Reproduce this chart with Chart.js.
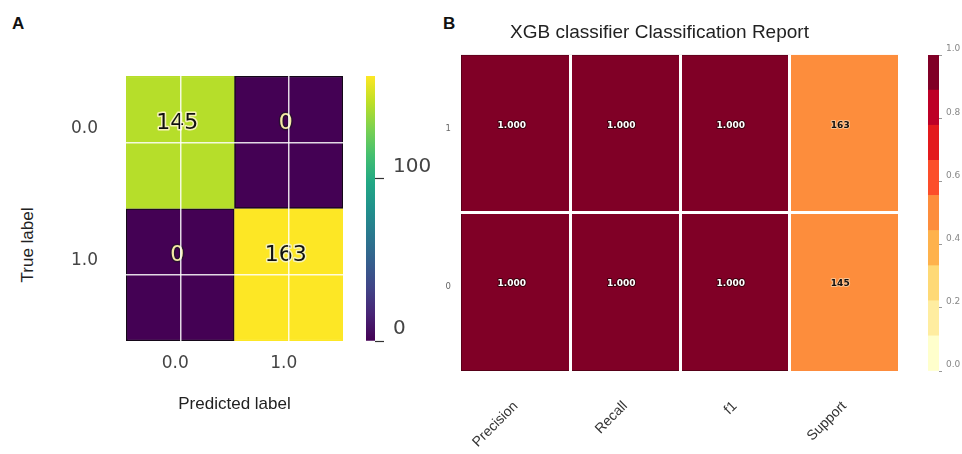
<!DOCTYPE html>
<html>
<head>
<meta charset="utf-8">
<script src="https://cdn.jsdelivr.net/npm/chart.js@4/dist/chart.umd.min.js"></script>
<style>
  body { margin: 0; background: #fff; }
  #wrap { position: relative; width: 962px; height: 454px; background: #fff; overflow: hidden; }
  #wrap canvas { position: absolute; top: 0; }
  .letter { position: absolute; font: bold 17px "Liberation Sans", Arial, sans-serif; color: #111; }
  #trueLabel { position: absolute; font: 17px "Liberation Sans", Arial, sans-serif; color: #222;
    left: 28px; top: 245px; transform: translate(-50%, -50%) rotate(-90deg); white-space: nowrap; }
</style>
</head>
<body>
<div id="wrap">
  <div class="letter" style="left:12px;top:14px">A</div>
  <div class="letter" style="left:443px;top:14px">B</div>
  <div id="trueLabel">True label</div>
  <canvas id="cmA" width="350" height="454" style="left:0"></canvas>
  <canvas id="cbA" width="100" height="454" style="left:350px"></canvas>
  <canvas id="cmB" width="480" height="454" style="left:420px"></canvas>
  <canvas id="cbB" width="52" height="454" style="left:910px"></canvas>
</div>
<script>
"use strict"

//////////    Data    ///////////////

// confusion matrix (rows = true label, columns = predicted label)
const cmLabels = ['0.0', '1.0'];
const cmRow0 = [145, 0];
const cmRow1 = [0, 163];
const cmTicks = [0, 100];

// classification report, rows '0' (bottom) and '1' (top)
const reportColumns = ['Precision', 'Recall', 'f1', 'Support'];
const reportRows = ['0', '1'];
const precision = [1.000, 1.000];
const recall = [1.000, 1.000];
const f1 = [1.000, 1.000];
const support = [145, 163];
const reportTicks = [0.0, 0.2, 0.4, 0.6, 0.8, 1.0];

//////////    Colour maps    ///////////////

const viridisStops = ['#440154', '#482475', '#414487', '#355f8d', '#2a788e', '#21918c',
  '#22a884', '#44bf70', '#7ad151', '#bddf26', '#fde725'];
const ylOrRd = ['#ffffcc', '#ffeda0', '#fed976', '#feb24c', '#fd8d3c', '#fc4e2a',
  '#e31a1c', '#bd0026', '#800026'];

function hexToRgb(h) {
  return [parseInt(h.slice(1, 3), 16), parseInt(h.slice(3, 5), 16), parseInt(h.slice(5, 7), 16)];
}

function viridis(t) {
  t = Math.max(0, Math.min(1, t));
  let pos = t * (viridisStops.length - 1);
  let i = Math.min(Math.floor(pos), viridisStops.length - 2);
  let f = pos - i;
  let a = hexToRgb(viridisStops[i]), b = hexToRgb(viridisStops[i + 1]);
  let c = a.map((v, k) => Math.round(v + (b[k] - v) * f));
  return `rgb(${c[0]},${c[1]},${c[2]})`;
}

function binColor(t) {
  return ylOrRd[Math.min(ylOrRd.length - 1, Math.floor(t * ylOrRd.length))];
}

//////////    Plugin for cell values    ///////////////

const cellText = {
  id: 'cellText',
  afterDatasetsDraw(chart) {
    const ctx = chart.ctx;
    chart.data.datasets.forEach((ds, di) => {
      if (!ds.texts) return;
      chart.getDatasetMeta(di).data.forEach((bar, i) => {
        let x = bar.x + ds.textDx;
        let y = (bar.y + bar.base) / 2 + ds.textDy;
        ctx.save();
        ctx.font = ds.textFont;
        ctx.textAlign = 'center';
        ctx.textBaseline = 'middle';
        ctx.lineJoin = 'round';
        ctx.lineWidth = ds.haloWidth;
        ctx.strokeStyle = ds.haloColor[i];
        ctx.strokeText(ds.texts[i], x, y);
        ctx.fillStyle = ds.textColor[i];
        ctx.fillText(ds.texts[i], x, y);
        ctx.restore();
      });
    });
  }
};

const noLegend = { legend: { display: false }, tooltip: { enabled: false }, title: { display: false } };

//////////    A: confusion matrix    ///////////////

const cmRows = [cmRow0, cmRow1];
const cmMax = Math.max(...cmRow0, ...cmRow1);

new Chart(document.getElementById('cmA'), {
  type: 'bar',
  data: {
    labels: cmLabels,
    datasets: cmRows.map((row, r) => ({
      data: row.map(() => [r, r + 1]),
      texts: row.map(String),
      backgroundColor: row.map(v => viridis(v / cmMax)),
      borderColor: row.map(v => v / cmMax < 0.5 ? '#140818' : viridis(v / cmMax)),
      borderWidth: 1.5,
      borderSkipped: false,
      grouped: false,
      barPercentage: 1,
      categoryPercentage: 1,
      textFont: '22px "DejaVu Sans"',
      textColor: row.map(v => v / cmMax < 0.5 ? '#f4eaa4' : '#111'),
      haloColor: row.map(v => v / cmMax < 0.5 ? '#2a0f33' : '#f6f3b8'),
      haloWidth: 3,
      textDx: -3,
      textDy: -19
    }))
  },
  options: {
    responsive: false,
    animation: false,
    layout: { padding: { top: 76, right: 7, left: 0, bottom: 0 } },
    plugins: noLegend,
    scales: {
      x: {
        grid: { z: 1, offset: false, color: 'rgba(255,255,255,0.85)', lineWidth: 1.5, drawTicks: false },
        border: { display: false },
        ticks: { font: { family: 'DejaVu Sans', size: 17 }, color: '#444', padding: 12, labelOffset: -5 },
        title: {
          display: true, text: 'Predicted label', color: '#222',
          font: { family: 'Liberation Sans', size: 17 }, padding: { top: 0, bottom: 39 }
        },
        afterFit: s => { s.height = 113; }
      },
      y: {
        type: 'linear', min: 0, max: 2, reverse: true,
        afterBuildTicks: s => { s.ticks = [{ value: 0.5 }, { value: 1.5 }]; },
        grid: { z: 1, color: 'rgba(255,255,255,0.85)', lineWidth: 1.5, drawTicks: false },
        border: { display: false },
        ticks: {
          callback: (v, i) => cmLabels[i],
          font: { family: 'DejaVu Sans', size: 17 }, color: '#444', padding: 28, labelOffset: -14
        },
        afterFit: s => { s.width = 126; }
      }
    }
  },
  plugins: [cellText]
});

// colour bar for A
new Chart(document.getElementById('cbA'), {
  type: 'bar',
  data: {
    labels: [''],
    datasets: [{
      data: [[0, cmMax]],
      backgroundColor: c => {
        const { ctx, chartArea } = c.chart;
        if (!chartArea) return viridisStops[0];
        const g = ctx.createLinearGradient(0, chartArea.bottom, 0, chartArea.top);
        viridisStops.forEach((col, i) => g.addColorStop(i / (viridisStops.length - 1), col));
        return g;
      },
      borderWidth: 0,
      barPercentage: 1,
      categoryPercentage: 1
    }]
  },
  options: {
    responsive: false,
    animation: false,
    layout: { padding: { left: 16, top: 76, right: 0, bottom: 113 } },
    plugins: noLegend,
    scales: {
      x: { display: false },
      y: {
        position: 'right', min: 0, max: cmMax,
        afterBuildTicks: s => { s.ticks = cmTicks.map(v => ({ value: v })); },
        grid: { drawOnChartArea: false, tickLength: 9, tickColor: '#333', tickWidth: 1.2 },
        border: { display: false },
        ticks: { font: { family: 'DejaVu Sans', size: 20 }, color: '#444', padding: 9, labelOffset: -12 },
        afterFit: s => { s.width = 75; }
      }
    }
  }
});

//////////    B: classification report    ///////////////

const supportTotal = support.reduce((a, b) => a + b, 0);

new Chart(document.getElementById('cmB'), {
  type: 'bar',
  data: {
    labels: reportColumns,
    datasets: reportRows.map((name, r) => {
      const metrics = [precision[r], recall[r], f1[r]];
      const fills = metrics.map(binColor).concat(binColor(support[r] / supportTotal));
      return {
        data: reportColumns.map(() => [r, r + 1]),
        texts: metrics.map(v => v.toFixed(3)).concat(String(support[r])),
        backgroundColor: fills,
        borderColor: fills.map((c, i) => i < 3 ? '#4a0014' : c),
        borderWidth: 1,
        borderSkipped: false,
        grouped: false,
        barPercentage: 1,
        categoryPercentage: 1,
        textFont: 'bold 9px "DejaVu Sans"',
        textColor: ['#fff', '#fff', '#fff', '#111'],
        haloColor: ['#3a000e', '#3a000e', '#3a000e', '#fbc28f'],
        haloWidth: 2,
        textDx: -4,
        textDy: -8
      };
    })
  },
  options: {
    responsive: false,
    animation: false,
    layout: { padding: { top: 0, right: 1, left: 0, bottom: 0 } },
    plugins: {
      legend: { display: false },
      tooltip: { enabled: false },
      title: {
        display: true, text: 'XGB classifier Classification Report', color: '#222',
        font: { family: 'Liberation Sans', size: 19, weight: 'normal', lineHeight: 1.2 },
        padding: { top: 21, bottom: 11 }
      }
    },
    scales: {
      x: {
        grid: {
          z: 1, offset: true, lineWidth: 3, drawTicks: false,
          color: c => (c.index === 0 || c.index === reportColumns.length) ? 'rgba(0,0,0,0)' : '#fff'
        },
        border: { display: false },
        ticks: {
          font: { family: 'Liberation Sans', size: 14 }, color: '#333',
          maxRotation: 45, minRotation: 45, padding: 27, labelOffset: 0
        },
        afterFit: s => { s.height = 83; }
      },
      y: {
        type: 'linear', min: 0, max: 2,
        afterBuildTicks: s => { s.ticks = [{ value: 0.5 }, { value: 1 }, { value: 1.5 }]; },
        grid: {
          z: 1, lineWidth: 3, drawTicks: false,
          color: c => (c.tick && c.tick.value === 1) ? '#fff' : 'rgba(0,0,0,0)'
        },
        border: { display: false },
        ticks: {
          callback: v => v === 1 ? '' : reportRows[v - 0.5],
          font: { family: 'DejaVu Sans', size: 8.5 }, color: '#666', padding: 10, labelOffset: -5
        },
        afterFit: s => { s.width = 41; }
      }
    }
  },
  plugins: [cellText]
});

// colour bar for B (discrete bins)
new Chart(document.getElementById('cbB'), {
  type: 'bar',
  data: {
    labels: [''],
    datasets: ylOrRd.map((col, k) => ({
      data: [[k / ylOrRd.length, (k + 1) / ylOrRd.length]],
      backgroundColor: col,
      borderWidth: 0,
      grouped: false,
      barPercentage: 1,
      categoryPercentage: 1
    }))
  },
  options: {
    responsive: false,
    animation: false,
    layout: { padding: { left: 18, top: 55, right: 0, bottom: 83 } },
    plugins: noLegend,
    scales: {
      x: { display: false },
      y: {
        position: 'right', min: 0, max: 1,
        afterBuildTicks: s => { s.ticks = reportTicks.map(v => ({ value: v })); },
        grid: { drawOnChartArea: false, tickLength: 3, tickColor: '#999' },
        border: { display: false },
        ticks: {
          callback: v => v.toFixed(1),
          font: { family: 'DejaVu Sans', size: 9 }, color: '#888', padding: 4, labelOffset: -6
        },
        afterFit: s => { s.width = 23; }
      }
    }
  }
});
</script>
</body>
</html>
